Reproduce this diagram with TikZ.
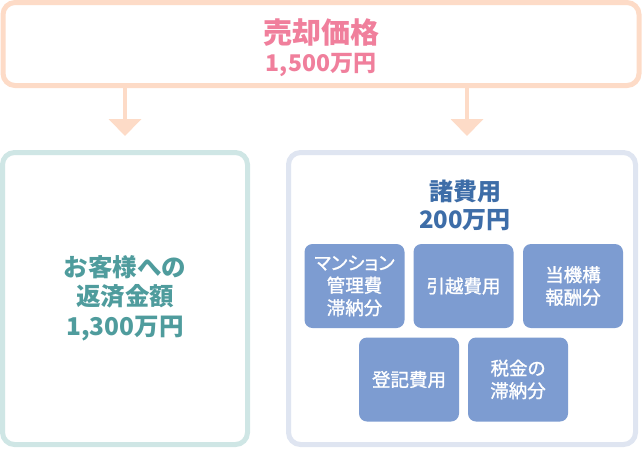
\documentclass[tikz,border=0pt]{standalone}
\usepackage{fontspec}
\newfontfamily\jp{Noto Sans CJK JP}
\newfontfamily\jpm{Noto Sans CJK JP}[FakeBold=1.2,RawFeature=+palt]
\usetikzlibrary{arrows.meta}
\definecolor{peach}{HTML}{FDDBC7}
\definecolor{pinktxt}{HTML}{F07F9C}
\definecolor{tealline}{HTML}{CFE6E5}
\definecolor{tealtxt}{HTML}{4F9C9D}
\definecolor{lavline}{HTML}{DFE5F1}
\definecolor{bluetxt}{HTML}{3D6DA8}
\definecolor{bluefill}{HTML}{7D9CD1}
\tikzset{
  bigbox/.style={draw, line width=5pt, fill=white, rounded corners=12pt, inner sep=0pt, outer sep=0pt},
  item/.style={fill=bluefill, rounded corners=8pt, minimum width=100pt, minimum height=84pt, inner sep=0pt, outer sep=0pt,
    text=white, align=center, font=\jpm\fontsize{18.5}{22.5}\selectfont},
  flow/.style={draw=peach, line width=4pt, -{Triangle[width=32pt,length=17pt]}, color=peach},
  ttl/.style={align=center, inner sep=0pt, font=\jp\bfseries\fontsize{24}{28}\selectfont}
}
\begin{document}
\begin{tikzpicture}[x=1pt,y=-1pt]
\useasboundingbox (0,0) rectangle (642,448);
% top box
\node[bigbox, draw=peach, minimum width=636pt, minimum height=83pt] (top) at (321,44) {};
\node[inner sep=0pt, text=pinktxt, font=\jp\bfseries\fontsize{29}{32}\selectfont] (topt) at (321,33) {売却価格};
\node[inner sep=0pt, text=pinktxt, font=\jp\bfseries\fontsize{23}{26}\selectfont] (topa) at (321,65) {1,500万円};
% left box
\node[bigbox, draw=tealline, minimum width=245pt, minimum height=292pt] (lbox) at (125,298.5) {};
\node[ttl, text=tealtxt, font=\jp\bfseries\fontsize{24.5}{29.5}\selectfont] (ltxt) at (125,298) {お客様への\\返済金額\\1,300万円};
% right box
\node[bigbox, draw=lavline, minimum width=347pt, minimum height=292pt] (rbox) at (462,298.5) {};
\node[ttl, text=bluetxt] (rtxt) at (465,205) {諸費用\\200万円};
% items
\node[item] (b1) at (354.5,286) {マンション\\管理費\\滞納分};
\node[item] (b2) at (463.5,286) {引越費用};
\node[item] (b3) at (573,286) {当機構\\報酬分};
\node[item] (b4) at (409,379.5) {登記費用};
\node[item] (b5) at (518,379.5) {税金の\\滞納分};
% arrows
\coordinate (e1) at (125,136);
\coordinate (e2) at (467,136);
\draw[flow] (top.south -| e1) -- (e1);
\draw[flow] (top.south -| e2) -- (e2);
\end{tikzpicture}
\end{document}
